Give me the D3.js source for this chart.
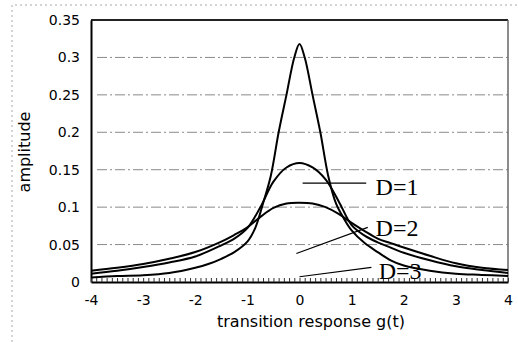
<!DOCTYPE html>
<html>
<head>
<meta charset="utf-8">
<script src="https://cdn.jsdelivr.net/npm/d3@7"></script>
<style>
  body { margin: 0; background: #fff; }
  svg { display: block; }
</style>
</head>
<body>
<div id="vis"></div>
<script>
const width = 518
const height = 342

// x ticks and y ticks as printed on the chart
const xTicks = [-4, -3, -2, -1, 0, 1, 2, 3, 4]
const xLabels = ["-4", "-3", "-2", "-1", "0", "1", "2", "3", "4"]
const yTicks = [0, 0.05, 0.1, 0.15, 0.2, 0.25, 0.3, 0.35]
const yLabels = ["0", "0.05", "0.1", "0.15", "0.2", "0.25", "0.3", "0.35"]

// tall, narrow curve
const tallX = [-4, -3.5, -3, -2.5, -2, -1.75, -1.5, -1.25, -1, -0.85, -0.7, -0.55, -0.4, -0.25, -0.1, 0, 0.1, 0.25, 0.4, 0.55, 0.7, 0.85, 1, 1.25, 1.5, 1.75, 2, 2.5, 3, 3.5, 4]
const tallY = [0.006, 0.008, 0.009, 0.012, 0.019, 0.024, 0.031, 0.040, 0.054, 0.072, 0.105, 0.142, 0.200, 0.250, 0.300, 0.318, 0.300, 0.250, 0.200, 0.142, 0.105, 0.085, 0.069, 0.052, 0.040, 0.029, 0.022, 0.015, 0.011, 0.0095, 0.008]

// middle curve
const midX = [-4, -3.5, -3, -2.5, -2, -1.5, -1.25, -1, -0.75, -0.5, -0.25, 0, 0.25, 0.5, 0.75, 1, 1.25, 1.5, 1.75, 2, 2.5, 3, 3.5, 4]
const midY = [0.011, 0.015, 0.020, 0.026, 0.034, 0.049, 0.058, 0.072, 0.100, 0.134, 0.153, 0.159, 0.153, 0.137, 0.108, 0.076, 0.062, 0.053, 0.046, 0.039, 0.029, 0.021, 0.016, 0.012]

// low, wide curve
const wideX = [-4, -3.5, -3, -2.5, -2, -1.5, -1.25, -1, -0.75, -0.5, -0.25, 0, 0.25, 0.5, 0.75, 1, 1.25, 1.5, 1.75, 2, 2.5, 3, 3.5, 4]
const wideY = [0.015, 0.019, 0.024, 0.031, 0.040, 0.054, 0.063, 0.073, 0.087, 0.099, 0.105, 0.106, 0.105, 0.100, 0.091, 0.079, 0.068, 0.058, 0.052, 0.046, 0.035, 0.025, 0.019, 0.016]

// labels and their pointer lines, in data units
const labelText = ["D=1", "D=2", "D=3"]
const labelX = [1.46, 1.46, 1.52]
const labelY = [0.116, 0.061, 0.004]
const pointerFrom = [[0.06, 0.132], [-0.06, 0.038], [0.0, 0.007]]
const pointerTo = [[1.28, 0.132], [1.31, 0.073], [1.38, 0.0196]]

const marginLeft = 91
const marginRight = 10
const marginTop = 20
const marginBottom = 60

const svg = d3.select("#vis")
    .append("svg")
    .attr("width", width)
    .attr("height", height)

const xScale = d3.scaleLinear([-4, 4], [marginLeft, width - marginRight])
const yScale = d3.scaleLinear([0, 0.35], [height - marginBottom, marginTop])

// faint dotted outline of the chart area
svg.append("path")
    .attr("d", `M12,${height} V5 H${width}`)
    .attr("fill", "none")
    .attr("stroke", "#aaa")
    .attr("stroke-width", 1)
    .attr("stroke-dasharray", "2,3")

// dash-dot grid lines
svg.selectAll("line.grid")
    .data(yTicks.filter(d => d > 0 && d < 0.35))
    .join("line")
        .attr("class", "grid")
        .attr("x1", xScale(-4) + 6)
        .attr("x2", xScale(4))
        .attr("y1", d => yScale(d))
        .attr("y2", d => yScale(d))
        .attr("stroke", "#8a8a8a")
        .attr("stroke-width", 1)
        .attr("stroke-dasharray", "10,3,2,3")

// top and right frame
svg.append("line")
    .attr("x1", xScale(-4)).attr("x2", xScale(4))
    .attr("y1", yScale(0.35)).attr("y2", yScale(0.35))
    .attr("stroke", "#222").attr("stroke-width", 2)
svg.append("line")
    .attr("x1", xScale(4)).attr("x2", xScale(4))
    .attr("y1", yScale(0.35)).attr("y2", yScale(0))
    .attr("stroke", "#666").attr("stroke-width", 1.5)

// y axis
const yAxis = svg.append("g")
    .attr("transform", `translate(${marginLeft}, 0)`)
    .call(d3.axisLeft(yScale)
        .tickValues(yTicks)
        .tickFormat((d, i) => yLabels[i])
        .tickSize(0)
        .tickSizeOuter(0)
        .tickPadding(11))
yAxis.select(".domain").attr("stroke", "#000").attr("stroke-width", 2)
yAxis.selectAll("text")
    .attr("font-family", "DejaVu Sans, sans-serif")
    .attr("font-size", 14)
    .attr("fill", "#000")

// x axis minor ticks (pointing inward)
const minor = svg.append("g")
    .attr("transform", `translate(0, ${height - marginBottom})`)
    .call(d3.axisBottom(xScale)
        .tickValues(d3.range(-40, 41).map(d => d / 10))
        .tickSize(-4)
        .tickSizeOuter(0)
        .tickFormat(""))
minor.select(".domain").attr("stroke", "#000").attr("stroke-width", 2)
minor.selectAll(".tick line").attr("stroke", "#333").attr("stroke-width", 1)

// x axis labels
const xAxis = svg.append("g")
    .attr("transform", `translate(0, ${height - marginBottom})`)
    .call(d3.axisBottom(xScale)
        .tickValues(xTicks)
        .tickFormat((d, i) => xLabels[i])
        .tickSize(0)
        .tickSizeOuter(0)
        .tickPadding(13))
xAxis.select(".domain").remove()
xAxis.selectAll("text")
    .attr("font-family", "DejaVu Sans, sans-serif")
    .attr("font-size", 14)
    .attr("fill", "#000")

// axis titles
svg.append("text")
    .attr("x", 311)
    .attr("y", 327)
    .attr("text-anchor", "middle")
    .attr("font-family", "DejaVu Sans, sans-serif")
    .attr("font-size", 16)
    .text("transition response g(t)")

svg.append("text")
    .attr("transform", `translate(30, 152) rotate(-90)`)
    .attr("text-anchor", "middle")
    .attr("font-family", "DejaVu Sans, sans-serif")
    .attr("font-size", 16)
    .text("amplitude")

// curves
const line = d3.line()
    .x(d => xScale(d[0]))
    .y(d => yScale(d[1]))
    .curve(d3.curveCatmullRom.alpha(0.5))

const series = [
    d3.zip(wideX, wideY),
    d3.zip(midX, midY),
    d3.zip(tallX, tallY)
]

svg.selectAll("path.curve")
    .data(series)
    .join("path")
        .attr("class", "curve")
        .attr("d", line)
        .attr("fill", "none")
        .attr("stroke", "#000")
        .attr("stroke-width", 2)

// pointer lines
svg.selectAll("line.pointer")
    .data(labelText)
    .join("line")
        .attr("class", "pointer")
        .attr("x1", (d, i) => xScale(pointerFrom[i][0]))
        .attr("y1", (d, i) => yScale(pointerFrom[i][1]))
        .attr("x2", (d, i) => xScale(pointerTo[i][0]))
        .attr("y2", (d, i) => yScale(pointerTo[i][1]))
        .attr("stroke", "#000")
        .attr("stroke-width", 1.2)

// labels
svg.selectAll("text.dlabel")
    .data(labelText)
    .join("text")
        .attr("class", "dlabel")
        .attr("x", (d, i) => xScale(labelX[i]))
        .attr("y", (d, i) => yScale(labelY[i]))
        .attr("font-family", "Liberation Serif, Times New Roman, serif")
        .attr("font-size", 24)
        .attr("fill", "#000")
        .text(d => d)
</script>
</body>
</html>
